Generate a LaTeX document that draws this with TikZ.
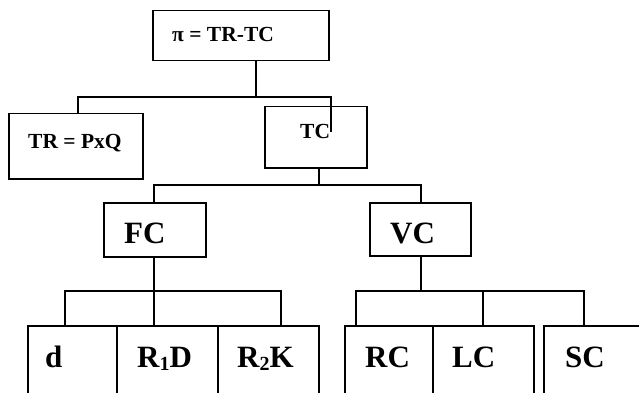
\documentclass[tikz,border=0pt]{standalone}
\usepackage{fontspec}
\setmainfont{Liberation Serif}
\newcommand{\lowsub}[1]{\raisebox{-3pt}{\fontsize{20}{22}\selectfont #1}}
\begin{document}
\begin{tikzpicture}[x=1pt,y=-1pt,
  box/.style={draw,line width=1.5pt,inner sep=0pt,anchor=north west},
  wire/.style={line width=1.5pt},
  small/.style={font=\fontsize{21.5}{24}\selectfont\bfseries,inner sep=0pt,anchor=base west},
  big/.style={font=\fontsize{31}{34}\selectfont\bfseries,inner sep=0pt,anchor=base west}]
\clip (0,0) rectangle (639,393);
\fill[white] (0,0) rectangle (639,393);
% boxes
\node[box,minimum width=176pt,minimum height=50pt] (top) at (152,10) {};
\node[box,minimum width=134pt,minimum height=65pt] (tr) at (8,113) {};
\node[box,minimum width=102pt,minimum height=61pt] (tc) at (264,106) {};
\node[box,minimum width=102pt,minimum height=54pt] (fc) at (103,202) {};
\node[box,minimum width=101pt,minimum height=53pt] (vc) at (369,202) {};
\node[box,minimum width=89pt,minimum height=90pt] (bd) at (27,325) {};
\node[box,minimum width=101pt,minimum height=90pt] (br1) at (116,325) {};
\node[box,minimum width=101pt,minimum height=90pt] (br2) at (217,325) {};
\node[box,minimum width=88pt,minimum height=90pt] (brc) at (344,325) {};
\node[box,minimum width=101pt,minimum height=90pt] (blc) at (432,325) {};
\node[box,minimum width=120pt,minimum height=90pt] (bsc) at (543,325) {};
% texts
\node[small] (ttop) at (172,42) {π = TR-TC};
\node[small] (ttr) at (28,148) {TR = PxQ};
\node[small] (ttc) at (300,138) {TC};
\node[big] (tfc) at (124,243) {FC};
\node[big] (tvc) at (390,243) {VC};
\node[big] (td) at (45,367) {d};
\node[big] (tr1) at (137,367) {R\lowsub{1}D};
\node[big] (tr2) at (237,367) {R\lowsub{2}K};
\node[big] (trc) at (365,367) {RC};
\node[big] (tlc) at (452,367) {LC};
\node[big] (tsc) at (565,367) {SC};
% connector points
\coordinate (j1) at (256,97);
\coordinate (tcend) at (331,132);
\coordinate (j2) at (319,185);
\coordinate (j3) at (154,291);
\coordinate (j4) at (421,291);
% connectors
\draw[wire] (top.south -| j1) -- (j1);
\draw[wire] (tr.north -| 78,0) |- (j1) -| (tcend);
\draw[wire] (tc.south -| j2) -- (j2);
\draw[wire] (fc.north -| 154,0) |- (j2) -| (vc.north -| 421,0);
\draw[wire] (fc.south -| j3) -- (bd.north -| j3);
\draw[wire] (bd.north -| 65,0) |- (j3) -| (br2.north -| 281,0);
\draw[wire] (vc.south -| j4) -- (j4);
\draw[wire] (brc.north -| 356,0) |- (j4) -| (bsc.north -| 584,0);
\draw[wire] (blc.north -| 483,0) -- (483,291);
\end{tikzpicture}
\end{document}
